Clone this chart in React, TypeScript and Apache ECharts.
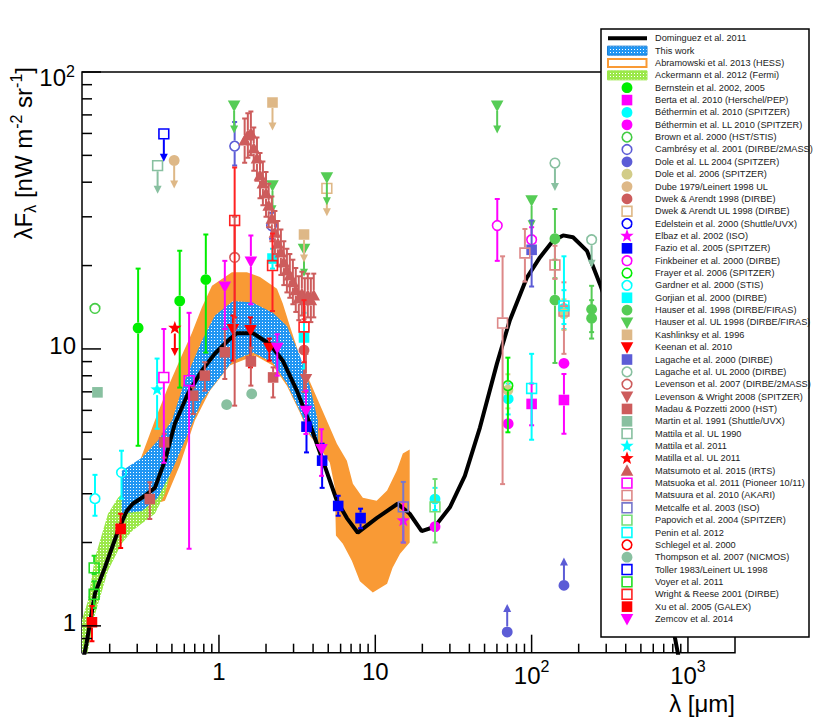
import React, { useEffect, useRef } from "react";
import * as echarts from "echarts";

const FONT = '"Liberation Sans", Arial, Helvetica, sans-serif';

// ---------------- axes ----------------
const X_MIN = 0.133;
const X_MAX = 2000;
const Y_MIN = 0.8;
const Y_MAX = 100;
const xMajorTicks = [1, 10, 100, 1000];
const xMinorTicks = [0.2, 0.3, 0.4, 0.5, 0.6, 0.7, 0.8, 0.9, 2, 3, 4, 5, 6, 7, 8, 9, 20, 30, 40, 50, 60, 70, 80, 90, 200, 300, 400, 500, 600, 700, 800, 900];
const xTickLabels = [["1", ""], ["10", ""], ["10", "2"], ["10", "3"]];
const yMajorTicks = [1, 10, 100];
const yMinorTicks = [0.9, 2, 3, 4, 5, 6, 7, 8, 9, 20, 30, 40, 50, 60, 70, 80, 90];
const yTickLabels = [["1", ""], ["10", ""], ["10", "2"]];

// ---------------- model curve and bands ----------------
const dominguez2011 = [[0.137, 0.78], [0.142, 0.861], [0.161, 1.31], [0.186, 1.62], [0.226, 2.2], [0.257, 2.6], [0.281, 2.76], [0.336, 2.95], [0.389, 3.15], [0.451, 3.95], [0.522, 5.37], [0.633, 6.89], [0.777, 8.35], [0.94, 9.61], [1.14, 10.7], [1.3, 11.4], [1.65, 11.4], [2.12, 10.4], [2.56, 9.07], [3.15, 7.07], [3.81, 5.37], [4.62, 3.95], [5.68, 2.83], [6.58, 2.45], [7.73, 2.17], [10.2, 2.45], [13.9, 2.76], [16.6, 2.54], [19.8, 2.2], [24.0, 2.28], [30.0, 2.68], [37.4, 3.48], [46.7, 5.2], [60.0, 8.85], [72.6, 12.7], [93.3, 18.1], [113, 21.4], [137, 24.6], [159, 25.7], [184, 25.3], [226, 22.6], [273, 17.2], [367, 10.7], [493, 5.07], [662, 2.03], [826, 0.905], [900, 0.7]];

const thisWorkUpper = [[0.239, 3.63], [0.321, 4.05], [0.406, 4.66], [0.5, 5.51], [0.605, 7.68], [0.777, 10.7], [0.942, 13.2], [1.23, 14.9], [1.65, 14.7], [2.21, 13.5], [2.72, 12.1], [3.29, 9.46], [3.81, 7.37], [4.29, 5.51]];
const thisWorkLower = [[4.29, 4.47], [3.81, 4.94], [3.29, 5.98], [2.72, 7.5], [2.21, 8.92], [1.65, 9.7], [1.23, 9.07], [0.942, 7.5], [0.777, 6.5], [0.605, 4.66], [0.5, 3.63], [0.406, 2.9], [0.321, 2.6], [0.239, 2.54]];

const hessUpper = [[0.298, 3.4], [0.312, 3.95], [0.389, 5.51], [0.471, 7.25], [0.578, 9.46], [0.67, 11.4], [0.777, 14.1], [0.902, 16.9], [1.21, 18.9], [1.51, 18.9], [1.83, 18.2], [2.35, 16.5], [2.56, 14.6], [2.84, 12.1], [3.44, 8.71], [4.23, 6.67], [5.12, 5.2], [5.68, 4.55], [6.58, 3.95], [7.19, 3.26], [8.32, 2.9], [10.2, 2.83], [11.9, 3.08], [13.7, 3.63], [15.0, 4.19], [16.6, 4.33]];
const hessLower = [[16.6, 2.0], [14.4, 1.82], [12.9, 1.62], [11.9, 1.42], [9.64, 1.32], [7.97, 1.45], [7.08, 1.72], [6.2, 1.98], [5.6, 2.12], [5.51, 3.15], [5.12, 3.88], [4.42, 4.4], [3.81, 4.86], [3.29, 5.89], [2.72, 7.37], [2.21, 8.71], [1.7, 9.46], [1.17, 8.71], [0.875, 7.07], [0.701, 5.51], [0.561, 3.79], [0.451, 2.83], [0.361, 2.72], [0.312, 3.34]];

const fermiUpper = [[0.133, 1.05], [0.145, 1.23], [0.161, 1.76], [0.195, 2.54], [0.226, 2.9], [0.269, 3.2], [0.361, 3.63], [0.451, 4.66], [0.522, 5.74], [0.6, 6.6]];
const fermiLower = [[0.6, 5.0], [0.522, 4.78], [0.5, 3.72], [0.451, 3.0], [0.389, 2.54], [0.321, 2.34], [0.278, 2.2], [0.238, 1.98], [0.195, 1.58], [0.161, 1.1], [0.145, 0.81], [0.133, 0.65]];

// ---------------- measurements: [lambda, value, low, high] or [lambda, value] ----------------
const bernstein2002 = [[0.304, 11.9, 4.47, 19.5], [0.561, 14.9, 7.25, 22.6], [0.824, 17.8, 9.7, 25.9]];
const berta2010 = [[100, 6.33, 5.3, 7.5], [161, 6.54, 4.94, 8.12]];
const bethermin2010 = [[24.1, 2.87, 2.62, 3.15], [70.8, 6.6, 5.8, 7.5], [161, 14.0, 11.8, 16.3]];
const betherminLL2010 = [[24.1, 2.28], [70.8, 5.37], [161, 8.87]];
const brown2000 = [[0.161, 14.0]];
const cambresy2001 = [[1.26, 54.0, 46, 66], [2.17, 27.9, 25, 31]];
const doleLL2004 = [[69.8, 0.95], [161, 1.4]];
const dole2006 = [[70.5, 7.1, 6.1, 8.1], [161, 13.4, 11.7, 15.1]];
const dubeUL1979 = [[0.517, 47.9]];
const dwekArendt1998 = [[3.5, 9.9, 7.0, 12.8]];
const dwekArendtUL1998 = [[4.9, 38.0]];
const edelstein2000: number[][] = [];
const elbaz2002 = [[15.1, 2.4, 2.0, 2.8]];
const fazio2005 = [[3.63, 5.24, 4.23, 6.2], [4.57, 3.95, 3.15, 4.55], [5.79, 2.71, 2.5, 2.95], [8.05, 2.45, 2.25, 2.65]];
const finkbeiner2000 = [[60.3, 27.9, 20.8, 34.8], [100, 24.8, 22, 27.5]];
const frayer2006 = [[70.5, 7.37, 5.0, 9.3]];
const gardner2000 = [[0.161, 2.88, 2.5, 3.51], [0.238, 3.58, 2.88, 4.29]];
const gorjian2000 = [[2.2, 21.2, 19.5, 23], [3.5, 11.0, 8.5, 13.5]];
const hauser1998 = [[141, 25.0, 18, 32], [141, 15.0, 8.9, 21], [242, 13.9, 11.5, 16.9], [242, 12.9, 10.9, 15]];
const hauserUL1998 = [[1.25, 75.7], [2.2, 39.0], [3.5, 23.0], [4.9, 41.7], [60.2, 75.7], [100, 34.4]];
const kashlinsky1996 = [[2.2, 77.6], [3.5, 25.9]];
const keenan2010 = [[1.23, 11.8, 9.07, 13.2], [1.59, 11.7, 8.58, 13.0], [2.1, 10.1, 9.07, 10.9]];
const lagache2000 = [[100, 22.8, 16.8, 29.1]];
const lagacheUL2000 = [[141, 46.9], [242, 24.8]];
const levenson2007 = [[1.26, 21.4, 6.24, 30]];
const levensonWright2008 = [[3.6, 7.79, 7.0, 9.6]];
const madau2000 = [[0.361, 2.87, 2.43, 3.3], [0.446, 4.6, 4.05, 4.94], [0.684, 6.78, 5.82, 7.27], [0.812, 8.01, 7.07, 8.95], [1.09, 9.72, 7.79, 11.8], [1.6, 9.02, 7.37, 10.1], [2.22, 7.89, 6.68, 8.58]];
const martin1991 = [[0.167, 6.97]];
const mattilaUL1990 = [[0.405, 45.9]];
const mattila2011 = [[0.402, 7.13, 5.15, 9.23]];
const matillaUL2011 = [[0.522, 11.9]];
const matsumoto2015 = [[1.46, 56.6, 47, 68], [1.53, 59.0, 49, 71], [1.6, 60.0, 50, 72], [1.67, 52.9, 44, 63], [1.75, 48.7, 40.5, 58], [1.83, 42.3, 35, 51], [1.91, 39.6, 33, 47.5], [2.0, 36.4, 30, 43.5], [2.08, 32.9, 27.5, 39.5], [2.18, 29.5, 24.5, 35.5], [2.28, 26.3, 22, 31.5], [2.38, 24.0, 20, 29], [2.49, 22.3, 18.5, 27], [2.6, 20.5, 17, 24.5], [2.72, 19.2, 16, 23], [2.84, 18.4, 15.3, 22], [2.97, 17.4, 14.5, 21], [3.1, 16.3, 13.6, 19.6], [3.24, 15.2, 12.7, 18.3], [3.39, 15.8, 13.2, 19], [3.54, 15.0, 12.5, 18], [3.7, 15.6, 13, 18.7], [3.87, 15.0, 12.5, 18], [4.04, 15.6, 13, 18.7]];
const matsuoka2011 = [[0.444, 7.89, 3.88, 11.8], [0.644, 7.68, 1.9, 13.5]];
const matsuura2010 = [[65.2, 12.4, 3.25, 21.6], [90.6, 22.2, 17.5, 27.1], [141, 20.1, 17.9, 23.6], [161, 13.7, 9.6, 17.4]];
const metcalfe2003 = [[15.1, 2.69, 2.0, 3.31]];
const papovich2004 = [[24.1, 2.69, 2.0, 3.39]];
const penin2012 = [[100, 7.2, 4.7, 9.6], [161, 14.3, 12.3, 21.6]];
const schlegel2000: number[][] = [];
const thompson2007 = [[1.12, 6.29], [1.62, 6.88]];
const tollerUL1983 = [[0.444, 59.8]];
const voyer2011 = [[0.159, 1.62, 1.54, 1.79], [0.159, 1.3, 1.16, 1.45]];
const wrightReese2001 = [[1.26, 29.1, 13.0, 45.2], [2.2, 20.0, 13.7, 26.1], [3.5, 12.0, 8.95, 15.0]];
const xu2005 = [[0.154, 1.03, 0.88, 1.18], [0.235, 2.24, 1.91, 2.54]];
const zemcov2014 = [[1.09, 16.8, 11.8, 20.8], [1.6, 20.7, 14.5, 25.7], [2.36, 10.1, 8.01, 11.3], [3.6, 5.98, 4.93, 7.07], [4.53, 4.35, 3.48, 5.13]];

const curveLabels = ["Dominguez et al. 2011", "This work", "Abramowski et al. 2013 (HESS)", "Ackermann et al. 2012 (Fermi)"];

type Shape = "circle" | "square" | "triDown" | "triUp" | "star";
type Limit = "none" | "upper" | "lower";
interface PointSet { label: string; data: number[][]; shape: Shape; open: boolean; color: string; limit: Limit; }

const C_IR = "#cd5c5c";
const C_SL = "#5c5cd6";
const C_TE = "#88c0a0";
const C_TAN = "#deb887";
const C_HG = "#55cc55";

const pointSets: PointSet[] = [
  { label: "Bernstein et al. 2002, 2005", data: bernstein2002, shape: "circle", open: false, color: "#00ee00", limit: "none" },
  { label: "Berta et al. 2010 (Herschel/PEP)", data: berta2010, shape: "square", open: false, color: "#ff00ff", limit: "none" },
  { label: "Béthermin et al. 2010 (SPITZER)", data: bethermin2010, shape: "circle", open: false, color: "#00ffff", limit: "none" },
  { label: "Béthermin et al. LL 2010 (SPITZER)", data: betherminLL2010, shape: "circle", open: false, color: "#ff00ff", limit: "none" },
  { label: "Brown et al. 2000 (HST/STIS)", data: brown2000, shape: "circle", open: true, color: "#44cc44", limit: "none" },
  { label: "Cambrésy et al. 2001 (DIRBE/2MASS)", data: cambresy2001, shape: "circle", open: true, color: C_SL, limit: "none" },
  { label: "Dole et al. LL 2004 (SPITZER)", data: doleLL2004, shape: "circle", open: false, color: C_SL, limit: "lower" },
  { label: "Dole et al. 2006 (SPITZER)", data: dole2006, shape: "circle", open: false, color: "#d2cc88", limit: "none" },
  { label: "Dube 1979/Leinert 1998 UL", data: dubeUL1979, shape: "circle", open: false, color: C_TAN, limit: "upper" },
  { label: "Dwek & Arendt 1998 (DIRBE)", data: dwekArendt1998, shape: "circle", open: false, color: C_IR, limit: "none" },
  { label: "Dwek & Arendt UL 1998 (DIRBE)", data: dwekArendtUL1998, shape: "square", open: true, color: C_TAN, limit: "upper" },
  { label: "Edelstein et al. 2000 (Shuttle/UVX)", data: edelstein2000, shape: "circle", open: true, color: "#0000ff", limit: "none" },
  { label: "Elbaz et al. 2002 (ISO)", data: elbaz2002, shape: "star", open: false, color: "#ff00ff", limit: "none" },
  { label: "Fazio et al. 2005 (SPITZER)", data: fazio2005, shape: "square", open: false, color: "#0000ff", limit: "none" },
  { label: "Finkbeiner et al. 2000 (DIRBE)", data: finkbeiner2000, shape: "circle", open: true, color: "#ff00ff", limit: "none" },
  { label: "Frayer et al. 2006 (SPITZER)", data: frayer2006, shape: "circle", open: true, color: "#00ee00", limit: "none" },
  { label: "Gardner et al. 2000 (STIS)", data: gardner2000, shape: "circle", open: true, color: "#00ffff", limit: "none" },
  { label: "Gorjian et al. 2000 (DIRBE)", data: gorjian2000, shape: "square", open: false, color: "#00ffff", limit: "none" },
  { label: "Hauser et al. 1998 (DIRBE/FIRAS)", data: hauser1998, shape: "circle", open: false, color: C_HG, limit: "none" },
  { label: "Hauser et al. UL 1998 (DIRBE/FIRAS)", data: hauserUL1998, shape: "triDown", open: false, color: C_HG, limit: "upper" },
  { label: "Kashlinksy et al. 1996", data: kashlinsky1996, shape: "square", open: false, color: C_TAN, limit: "upper" },
  { label: "Keenan et al. 2010", data: keenan2010, shape: "triDown", open: false, color: "#ff0000", limit: "none" },
  { label: "Lagache et al. 2000 (DIRBE)", data: lagache2000, shape: "square", open: false, color: C_SL, limit: "none" },
  { label: "Lagache et al. UL 2000 (DIRBE)", data: lagacheUL2000, shape: "circle", open: true, color: C_TE, limit: "upper" },
  { label: "Levenson et al. 2007 (DIRBE/2MASS)", data: levenson2007, shape: "circle", open: true, color: C_IR, limit: "none" },
  { label: "Levenson & Wright 2008 (SPITZER)", data: levensonWright2008, shape: "triDown", open: false, color: C_IR, limit: "none" },
  { label: "Madau & Pozzetti 2000 (HST)", data: madau2000, shape: "square", open: false, color: C_IR, limit: "none" },
  { label: "Martin et al. 1991 (Shuttle/UVX)", data: martin1991, shape: "square", open: false, color: C_TE, limit: "none" },
  { label: "Mattila et al. UL 1990", data: mattilaUL1990, shape: "square", open: true, color: C_TE, limit: "upper" },
  { label: "Mattila et al. 2011", data: mattila2011, shape: "star", open: false, color: "#00ffff", limit: "none" },
  { label: "Matilla et al. UL 2011", data: matillaUL2011, shape: "star", open: false, color: "#ff0000", limit: "upper" },
  { label: "Matsumoto et al. 2015 (IRTS)", data: matsumoto2015, shape: "triUp", open: false, color: C_IR, limit: "none" },
  { label: "Matsuoka et al. 2011 (Pioneer 10/11)", data: matsuoka2011, shape: "square", open: true, color: "#ff00ff", limit: "none" },
  { label: "Matsuura et al. 2010 (AKARI)", data: matsuura2010, shape: "square", open: true, color: "#dd8888", limit: "none" },
  { label: "Metcalfe et al. 2003 (ISO)", data: metcalfe2003, shape: "square", open: true, color: "#7777cc", limit: "none" },
  { label: "Papovich et al. 2004 (SPITZER)", data: papovich2004, shape: "square", open: true, color: "#77dd77", limit: "none" },
  { label: "Penin et al. 2012", data: penin2012, shape: "square", open: true, color: "#00ffff", limit: "none" },
  { label: "Schlegel et al. 2000", data: schlegel2000, shape: "circle", open: true, color: "#ff0000", limit: "none" },
  { label: "Thompson et al. 2007 (NICMOS)", data: thompson2007, shape: "circle", open: false, color: C_TE, limit: "none" },
  { label: "Toller 1983/Leinert UL 1998", data: tollerUL1983, shape: "square", open: true, color: "#0000ff", limit: "upper" },
  { label: "Voyer et al. 2011", data: voyer2011, shape: "square", open: true, color: "#22dd22", limit: "none" },
  { label: "Wright & Reese 2001 (DIRBE)", data: wrightReese2001, shape: "square", open: true, color: "#ff2222", limit: "none" },
  { label: "Xu et al. 2005 (GALEX)", data: xu2005, shape: "square", open: false, color: "#ff0000", limit: "none" },
  { label: "Zemcov et al. 2014", data: zemcov2014, shape: "triDown", open: false, color: "#ff00ff", limit: "none" },
];

// ---------------- drawing helpers ----------------
const EDGE = 5.5;
const CAP = 2.5;
const ARROW = 28;
const HEAD = 8;

function starPoints(cx: number, cy: number, R: number, r: number) {
  const pts: number[][] = [];
  for (let i = 0; i < 10; i++) {
    const a = -Math.PI / 2 + (i * Math.PI) / 5;
    const rad = i % 2 === 0 ? R : r;
    pts.push([cx + rad * Math.cos(a), cy + rad * Math.sin(a)]);
  }
  return pts;
}

function markerEls(shape: Shape, open: boolean, color: string, cx: number, cy: number): any[] {
  const style = { fill: open ? "none" : color, stroke: open ? color : "none", lineWidth: open ? 1.6 : 0 };
  if (shape === "circle") return [{ type: "circle", shape: { cx, cy, r: open ? 4.8 : 5.4 }, style }];
  if (shape === "square") {
    const h = open ? 4.9 : 5.3;
    return [{ type: "rect", shape: { x: cx - h, y: cy - h, width: 2 * h, height: 2 * h }, style }];
  }
  if (shape === "triDown") return [{ type: "polygon", shape: { points: [[cx - 6.3, cy - 5], [cx + 6.3, cy - 5], [cx, cy + 6.5]] }, style }];
  if (shape === "triUp") return [{ type: "polygon", shape: { points: [[cx - 6.3, cy + 5], [cx + 6.3, cy + 5], [cx, cy - 6.5]] }, style }];
  return [{ type: "polygon", shape: { points: starPoints(cx, cy, 7, 2.9) }, style }];
}

function seg(x1: number, y1: number, x2: number, y2: number, color: string, w = 2) {
  return { type: "line", shape: { x1, y1, x2, y2 }, style: { stroke: color, lineWidth: w } };
}

function txt(text: string, x: number, y: number, size: number, align: string) {
  return { type: "text", x, y, style: { text, fontSize: size, fontFamily: FONT, fill: "#000", align, verticalAlign: "middle" } };
}

function makeDotPattern(bg: string, dot: string): any {
  const c = document.createElement("canvas");
  c.width = 3;
  c.height = 3;
  const g = c.getContext("2d")!;
  g.fillStyle = bg;
  g.fillRect(0, 0, 3, 3);
  g.fillStyle = dot;
  g.fillRect(1, 1, 1, 1);
  return { image: c, repeat: "repeat", imageWidth: 3, imageHeight: 3 };
}

function bandSeries(name: string, upper: number[][], lower: number[][], fill: any, z: number) {
  return {
    type: "custom", name, z, silent: true, clip: true,
    data: upper.map((p) => [p[0], p[1]]),
    renderItem: (params: any, api: any) => {
      if (params.dataIndex !== 0) return null;
      const cs = params.coordSys;
      const pts = upper.map((p) => api.coord(p)).concat(lower.map((p) => api.coord(p)));
      return {
        type: "group",
        clipPath: { type: "rect", shape: { x: cs.x, y: cs.y, width: cs.width, height: cs.height } },
        children: [{ type: "polygon", shape: { points: pts }, style: { fill, stroke: "none" } }],
      };
    },
  };
}

function pointSeries(ps: PointSet) {
  return {
    type: "custom", name: ps.label, z: 5, silent: true, clip: true,
    data: ps.data.map((d) => [d[0], d[1]]),
    renderItem: (params: any, api: any) => {
      const d = ps.data[params.dataIndex];
      const p = api.coord([d[0], d[1]]);
      const cx = p[0], cy = p[1];
      const ch: any[] = [];
      if (d.length >= 4) {
        const yHi = api.coord([d[0], d[3]])[1];
        const yLo = api.coord([d[0], d[2]])[1];
        if (yHi < cy - EDGE) {
          ch.push(seg(cx, yHi, cx, cy - EDGE, ps.color));
          ch.push(seg(cx - CAP, yHi, cx + CAP, yHi, ps.color));
        }
        if (yLo > cy + EDGE) {
          ch.push(seg(cx, cy + EDGE, cx, yLo, ps.color));
          ch.push(seg(cx - CAP, yLo, cx + CAP, yLo, ps.color));
        }
      }
      if (ps.limit === "upper") {
        const tip = cy + ARROW;
        ch.push(seg(cx, cy + EDGE, cx, tip - HEAD + 1, ps.color));
        ch.push({ type: "polygon", shape: { points: [[cx - 4, tip - HEAD], [cx + 4, tip - HEAD], [cx, tip]] }, style: { fill: ps.color } });
      } else if (ps.limit === "lower") {
        const tip = cy - ARROW;
        ch.push(seg(cx, cy - EDGE, cx, tip + HEAD - 1, ps.color));
        ch.push({ type: "polygon", shape: { points: [[cx - 4, tip + HEAD], [cx + 4, tip + HEAD], [cx, tip]] }, style: { fill: ps.color } });
      }
      markerEls(ps.shape, ps.open, ps.color, cx, cy).forEach((e) => ch.push(e));
      return { type: "group", children: ch };
    },
  };
}

function xTickSeries(ticks: number[], len: number, labels: string[][] | null) {
  return {
    type: "custom", z: 8, silent: true,
    data: ticks.map((v) => [v, 1]),
    renderItem: (params: any, api: any) => {
      const cs = params.coordSys;
      const i = params.dataIndex;
      const x = api.coord([ticks[i], 1])[0];
      const yb = cs.y + cs.height;
      const ch: any[] = [seg(x, yb, x, yb - len, "#000", 1.5)];
      if (labels) {
        const [b, e] = labels[i];
        if (e) {
          const left = x - 17.8;
          ch.push(txt(b, left, yb + 22.5, 24, "left"));
          ch.push(txt(e, left + 26.7, yb + 13.5, 16, "left"));
        } else {
          ch.push(txt(b, x, yb + 19, 24, "center"));
        }
      }
      return { type: "group", children: ch };
    },
  };
}

function yTickSeries(ticks: number[], len: number, labels: string[][] | null) {
  return {
    type: "custom", z: 8, silent: true,
    data: ticks.map((v) => [1, v]),
    renderItem: (params: any, api: any) => {
      const cs = params.coordSys;
      const i = params.dataIndex;
      const y = api.coord([1, ticks[i]])[1];
      const xl = cs.x;
      const ch: any[] = [seg(xl, y, xl + len, y, "#000", 1.5)];
      if (labels) {
        const [b, e] = labels[i];
        if (e) {
          ch.push(txt(e, xl - 7, y - 0.5, 16, "right"));
          ch.push(txt(b, xl - 16, y + 5.5, 24, "right"));
        } else {
          ch.push(txt(b, xl - 6, y - 3, 24, "right"));
        }
      }
      return { type: "group", children: ch };
    },
  };
}

// legend layout (style constants)
const LEG_X = 601, LEG_Y = 29, LEG_W = 208, LEG_H = 608;
const LEG_MARK_X = 627, LEG_TEXT_X = 655, LEG_ROW0 = 38.3, LEG_DY = 12.355;

function legendElements(bluePat: any, greenPat: any, orange: string) {
  const els: any[] = [];
  const rowY = (i: number) => LEG_ROW0 + i * LEG_DY;
  els.push({ type: "rect", shape: { x: LEG_X, y: LEG_Y, width: LEG_W, height: LEG_H }, style: { fill: "#fff", stroke: "#000", lineWidth: 1.5 } });
  els.push(seg(608, rowY(0), 647, rowY(0), "#000", 4));
  els.push({ type: "rect", shape: { x: 607.5, y: rowY(1) - 4.5, width: 39.5, height: 9 }, style: { fill: bluePat, stroke: "#1a7fd6", lineWidth: 1 } });
  els.push({ type: "rect", shape: { x: 608, y: rowY(2) - 4, width: 38.5, height: 8 }, style: { fill: "#fff", stroke: orange, lineWidth: 2 } });
  els.push({ type: "rect", shape: { x: 607.5, y: rowY(3) - 4.5, width: 39.5, height: 9 }, style: { fill: greenPat, stroke: "#9be84a", lineWidth: 1 } });
  const legText = (t: string, y: number) => ({ type: "text", x: LEG_TEXT_X, y, style: { text: t, fontSize: 9.2, fontFamily: FONT, fill: "#1a1a1a", align: "left", verticalAlign: "middle" } });
  curveLabels.forEach((t, i) => els.push(legText(t, rowY(i))));
  pointSets.forEach((ps, k) => {
    const y = rowY(k + 4);
    markerEls(ps.shape, ps.open, ps.color, LEG_MARK_X, y).forEach((e) => els.push(e));
    els.push(legText(ps.label, y));
  });
  return els.map((e) => ({ ...e, z: 100 }));
}

export default function App() {
  const ref = useRef<HTMLDivElement>(null);
  useEffect(() => {
    const el = ref.current!;
    const chart = echarts.init(el, null, { renderer: "svg" });
    const bluePat = makeDotPattern("#2196f3", "#ffffff");
    const greenPat = makeDotPattern("#9be84a", "#ffffff");
    const orange = "#f99a35";

    const series: any[] = [
      bandSeries("Abramowski et al. 2013 (HESS)", hessUpper, hessLower, orange, 1),
      bandSeries("Ackermann et al. 2012 (Fermi)", fermiUpper, fermiLower, greenPat, 1),
      bandSeries("This work", thisWorkUpper, thisWorkLower, bluePat, 1),
      {
        type: "line", name: "Dominguez et al. 2011", data: dominguez2011, showSymbol: false, symbol: "none",
        lineStyle: { color: "#000", width: 4 }, z: 3, silent: true, clip: true,
      },
      ...pointSets.map((ps) => pointSeries(ps)),
      xTickSeries(xMajorTicks, 18, xTickLabels),
      xTickSeries(xMinorTicks, 9, null),
      yTickSeries(yMajorTicks, 19, yTickLabels),
      yTickSeries(yMinorTicks, 10, null),
    ];

    const yTitle = {
      type: "text", x: 23, y: 67, rotation: Math.PI / 2, z: 100,
      style: {
        text: "{a|λF}{b|λ}{a| [nW m}{c|-2}{a| sr}{c|-1}{a|]}",
        align: "right", verticalAlign: "middle", fill: "#000",
        rich: {
          a: { fontSize: 24, fontFamily: FONT, fill: "#000", lineHeight: 30, verticalAlign: "middle" },
          b: { fontSize: 16, fontFamily: FONT, fill: "#000", lineHeight: 16, verticalAlign: "bottom" },
          c: { fontSize: 16, fontFamily: FONT, fill: "#000", lineHeight: 16, verticalAlign: "top" },
        },
      },
    };
    const xTitle = {
      type: "text", x: 735, y: 703, z: 100,
      style: { text: "λ [μm]", fontSize: 24, fontFamily: FONT, fill: "#000", align: "right", verticalAlign: "middle" },
    };

    chart.setOption({
      animation: false,
      backgroundColor: "#fff",
      grid: { left: 82, top: 72, width: 653, height: 580.7, show: true, borderColor: "#000", borderWidth: 1.5, backgroundColor: "transparent" },
      xAxis: {
        type: "log", logBase: 10, min: X_MIN, max: X_MAX,
        axisLine: { show: false }, axisTick: { show: false }, axisLabel: { show: false }, splitLine: { show: false },
      },
      yAxis: {
        type: "log", logBase: 10, min: Y_MIN, max: Y_MAX,
        axisLine: { show: false }, axisTick: { show: false }, axisLabel: { show: false }, splitLine: { show: false },
      },
      series,
      graphic: { elements: [...legendElements(bluePat, greenPat, orange), yTitle, xTitle] },
    });
    return () => chart.dispose();
  }, []);
  return <div ref={ref} style={{ position: "fixed", left: 0, top: 0, width: 817, height: 725, background: "#fff" }} />;
}
